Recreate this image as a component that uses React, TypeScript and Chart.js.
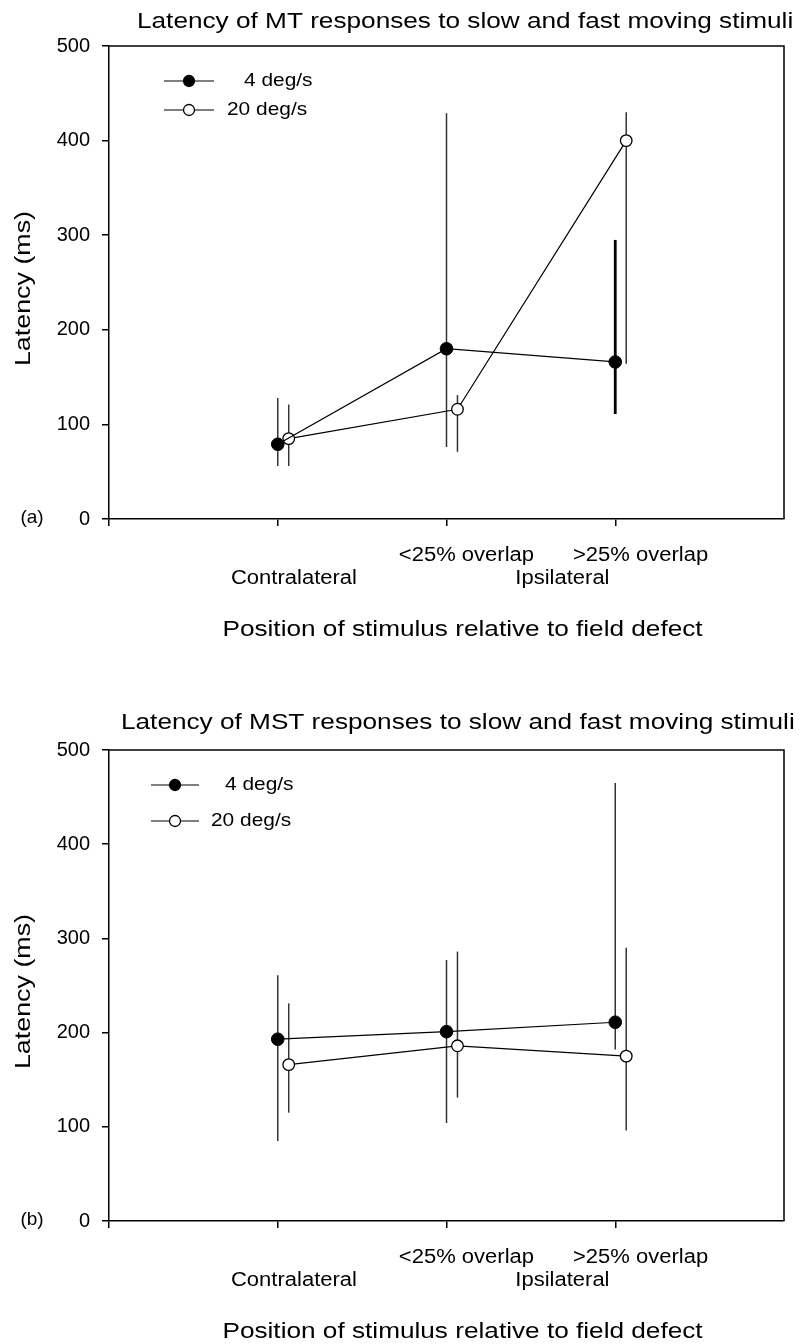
import React, { useEffect, useRef } from "react";
import { Chart, registerables } from "chart.js";

Chart.register(...registerables);

// ---------- data ----------
const xTickValues = [0, 1, 2, 3];
const yTickValues = [0, 100, 200, 300, 400, 500];
const seriesNames = ["4 deg/s", "20 deg/s"];
const categoryPositions = [1, 2, 3];

const mtSlowMean = [79, 180, 166];
const mtSlowLow = [56, 76, 111];
const mtSlowHigh = [128, 429, 295];
const mtFastMean = [85, 116, 400];
const mtFastLow = [56, 71, 164];
const mtFastHigh = [121, 131, 430];

const mstSlowMean = [193, 201, 211];
const mstSlowLow = [85, 104, 182];
const mstSlowHigh = [261, 277, 465];
const mstFastMean = [166, 186, 175];
const mstFastLow = [115, 131, 96];
const mstFastHigh = [231, 286, 290];

const topRowLabels = ["", "<25% overlap", ">25% overlap"];
const bottomRowLabels = ["Contralateral", "Ipsilateral"];
const xTitle = "Position of stimulus relative to field defect";
const yTitle = "Latency (ms)";
const mtTitle = "Latency of MT responses to slow and fast moving stimuli";
const mstTitle = "Latency of MST responses to slow and fast moving stimuli";

// ---------- styling / layout (not data) ----------
const FONT = '"Liberation Sans", Arial, Helvetica, sans-serif';
const OPEN_OFFSET = 0.065;
const topRowAt = [0, 2.118, 3.15];
const bottomRowAt = [1.096, 2.687];
const xTitleAt = 2.095;

type PanelCfg = {
  title: string;
  titleX: number;
  titleY: number;
  letter: string;
  legendRows: number[];
  legendLine: [number, number];
  legendTextX: number[];
  height: number;
  plotBottom: number;
  slow: { mean: number[]; lo: number[]; hi: number[] };
  fast: { mean: number[]; lo: number[]; hi: number[] };
  thick: { series: number; index: number } | null;
};

function sText(
  ctx: CanvasRenderingContext2D,
  text: string,
  x: number,
  y: number,
  size: number,
  sx: number,
  align: CanvasTextAlign,
  rotate = false
) {
  ctx.save();
  ctx.translate(x, y);
  if (rotate) ctx.rotate(-Math.PI / 2);
  ctx.scale(sx, 1);
  ctx.font = `${size}px ${FONT}`;
  ctx.fillStyle = "#000";
  ctx.textAlign = align;
  ctx.textBaseline = "middle";
  ctx.fillText(text, 0, 0);
  ctx.restore();
}

function makeChart(canvas: HTMLCanvasElement, cfg: PanelCfg) {
  const slowPts = categoryPositions.map((p, i) => ({ x: p, y: cfg.slow.mean[i] }));
  const fastPts = categoryPositions.map((p, i) => ({ x: p + OPEN_OFFSET, y: cfg.fast.mean[i] }));

  const decor = {
    id: "decor",
    beforeDatasetsDraw(chart: any) {
      const ctx = chart.ctx as CanvasRenderingContext2D;
      const xs = chart.scales.x;
      const ys = chart.scales.y;
      const series = [
        { d: cfg.slow, off: 0 },
        { d: cfg.fast, off: OPEN_OFFSET },
      ];
      ctx.save();
      series.forEach((s, si) => {
        categoryPositions.forEach((p, i) => {
          const px = xs.getPixelForValue(p + s.off);
          const thick = cfg.thick && cfg.thick.series === si && cfg.thick.index === i;
          ctx.beginPath();
          ctx.lineWidth = thick ? 2.8 : 1.5;
          ctx.strokeStyle = thick ? "#000" : "#333";
          ctx.moveTo(px, ys.getPixelForValue(s.d.lo[i]));
          ctx.lineTo(px, ys.getPixelForValue(s.d.hi[i]));
          ctx.stroke();
        });
      });
      ctx.restore();
    },
    afterDraw(chart: any) {
      const ctx = chart.ctx as CanvasRenderingContext2D;
      const a = chart.chartArea;
      const xs = chart.scales.x;
      ctx.save();
      // top and right frame
      ctx.strokeStyle = "#000";
      ctx.lineWidth = 1.5;
      ctx.beginPath();
      ctx.moveTo(a.left, a.top);
      ctx.lineTo(a.right, a.top);
      ctx.lineTo(a.right, a.bottom);
      ctx.stroke();
      ctx.restore();

      // title
      sText(ctx, cfg.title, cfg.titleX, cfg.titleY, 22, 1.19, "left");
      // y title
      sText(ctx, yTitle, 24, (a.top + a.bottom) / 2 + 6, 22, 1.22, "center", true);
      // x category labels
      topRowLabels.forEach((t, i) => {
        if (t) sText(ctx, t, xs.getPixelForValue(topRowAt[i]), a.bottom + 36, 20, 1.1, "center");
      });
      bottomRowLabels.forEach((t, i) => {
        sText(ctx, t, xs.getPixelForValue(bottomRowAt[i]), a.bottom + 59, 20, 1.1, "center");
      });
      // x title
      sText(ctx, xTitle, xs.getPixelForValue(xTitleAt), a.bottom + 111, 22, 1.19, "center");
      // panel letter
      sText(ctx, cfg.letter, 32, a.bottom - 1, 19, 1.0, "center");

      // legend
      const styles = [
        { fill: "#000", text: "#000" },
        { fill: "#fff", text: "#000" },
      ];
      cfg.legendRows.forEach((ry, i) => {
        ctx.save();
        ctx.strokeStyle = "#000";
        ctx.lineWidth = 1.2;
        ctx.beginPath();
        ctx.moveTo(cfg.legendLine[0], ry);
        ctx.lineTo(cfg.legendLine[1], ry);
        ctx.stroke();
        const mx = (cfg.legendLine[0] + cfg.legendLine[1]) / 2;
        ctx.beginPath();
        ctx.arc(mx, ry, 5.5, 0, Math.PI * 2);
        ctx.fillStyle = styles[i].fill;
        ctx.fill();
        ctx.lineWidth = 1.3;
        ctx.stroke();
        ctx.restore();
        sText(ctx, seriesNames[i], cfg.legendTextX[i], ry, 19, 1.1, "left");
      });
    },
  };

  const plotTop = 46;
  const xHeight = cfg.height - cfg.plotBottom;

  return new Chart(canvas, {
    type: "line",
    data: {
      datasets: [
        {
          label: seriesNames[0],
          data: slowPts,
          borderColor: "#000",
          borderWidth: 1.2,
          pointRadius: 6.3,
          pointBackgroundColor: "#000",
          pointBorderColor: "#000",
          pointBorderWidth: 1,
          showLine: true,
          tension: 0,
          clip: false as any,
        },
        {
          label: seriesNames[1],
          data: fastPts,
          borderColor: "#000",
          borderWidth: 1.2,
          pointRadius: 5.8,
          pointBackgroundColor: "#fff",
          pointBorderColor: "#000",
          pointBorderWidth: 1.3,
          showLine: true,
          tension: 0,
          clip: false as any,
        },
      ],
    },
    options: {
      animation: false,
      responsive: false,
      maintainAspectRatio: false,
      layout: { padding: { top: plotTop, right: 15, left: 0, bottom: 0 } },
      plugins: {
        legend: { display: false },
        tooltip: { enabled: false },
        title: { display: false },
      },
      scales: {
        x: {
          type: "linear",
          min: 0,
          max: 4,
          afterBuildTicks: (s: any) => {
            s.ticks = xTickValues.map((v) => ({ value: v }));
          },
          afterFit: (s: any) => {
            s.height = xHeight;
          },
          ticks: { callback: () => "", font: { size: 12, family: FONT } },
          grid: { drawOnChartArea: false, drawTicks: true, tickLength: 7, color: "#000", lineWidth: 1.5 },
          border: { display: true, color: "#000", width: 1.5 },
        },
        y: {
          type: "linear",
          min: 0,
          max: 500,
          afterBuildTicks: (s: any) => {
            s.ticks = yTickValues.map((v) => ({ value: v }));
          },
          afterFit: (s: any) => {
            s.width = 109;
          },
          ticks: { color: "#000", padding: 12, font: { size: 20, family: FONT } },
          grid: { drawOnChartArea: false, drawTicks: true, tickLength: 7, color: "#000", lineWidth: 1.5 },
          border: { display: true, color: "#000", width: 1.5 },
        },
      },
    },
    plugins: [decor],
  } as any);
}

const topCfg: PanelCfg = {
  title: mtTitle,
  titleX: 137,
  titleY: 22,
  letter: "(a)",
  legendRows: [81, 110],
  legendLine: [164, 214],
  legendTextX: [244, 227],
  height: 672,
  plotBottom: 519,
  slow: { mean: mtSlowMean, lo: mtSlowLow, hi: mtSlowHigh },
  fast: { mean: mtFastMean, lo: mtFastLow, hi: mtFastHigh },
  thick: { series: 0, index: 2 },
};

const bottomCfg: PanelCfg = {
  title: mstTitle,
  titleX: 121,
  titleY: 19,
  letter: "(b)",
  legendRows: [81, 117],
  legendLine: [151, 199],
  legendTextX: [225, 211],
  height: 640,
  plotBottom: 517,
  slow: { mean: mstSlowMean, lo: mstSlowLow, hi: mstSlowHigh },
  fast: { mean: mstFastMean, lo: mstFastLow, hi: mstFastHigh },
  thick: null,
};

function Panel({ cfg, top }: { cfg: PanelCfg; top: number }) {
  const ref = useRef<HTMLCanvasElement | null>(null);
  useEffect(() => {
    if (!ref.current) return;
    const c = makeChart(ref.current, cfg);
    return () => c.destroy();
  }, []);
  return (
    <canvas
      ref={ref}
      width={799}
      height={cfg.height}
      style={{ position: "absolute", left: 0, top, width: 799, height: cfg.height }}
    />
  );
}

export default function App() {
  return (
    <div style={{ position: "absolute", left: 0, top: 0, width: 799, height: 1344, background: "#fff", overflow: "hidden" }}>
      <Panel cfg={topCfg} top={0} />
      <Panel cfg={bottomCfg} top={704} />
    </div>
  );
}
